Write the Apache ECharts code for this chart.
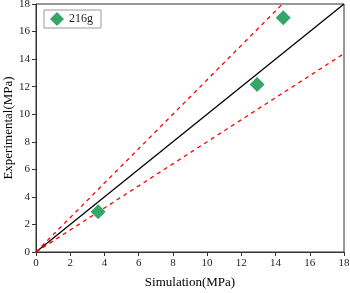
<!DOCTYPE html>
<html>
<head>
<meta charset="utf-8">
<script src="https://cdn.jsdelivr.net/npm/echarts@6/dist/echarts.min.js"></script>
<style>
html, body { margin: 0; padding: 0; background: #fff; }
#chart { width: 350px; height: 293px; }
</style>
</head>
<body>
<div id="chart"></div>
<script>
var simulation = [3.63, 12.92, 14.45];
var experimental = [2.92, 12.15, 17.0];
var seriesName = '216g';
var axisTicks = [0, 2, 4, 6, 8, 10, 12, 14, 16, 18];
var refLine = [[0, 0], [18, 18]];
var upperLine = [[0, 0], [14.4, 18]];
var lowerLine = [[0, 0], [18, 14.4]];

(function () {
    var myChart = echarts.init(document.getElementById('chart'));
    var font = 'Liberation Serif';
    var axisBase = {
        type: 'value',
        min: axisTicks[0],
        max: axisTicks[axisTicks.length - 1],
        interval: 2,
        nameLocation: 'middle',
        nameMoveOverlap: false,
        nameTextStyle: { fontFamily: font, fontSize: 13, color: '#000' },
        axisLine: { show: true, lineStyle: { color: '#333', width: 1 } },
        axisTick: { show: true, inside: false, length: 4, lineStyle: { color: '#333' } },
        axisLabel: { fontFamily: font, fontSize: 11, color: '#222', margin: 6 },
        splitLine: { show: false }
    };
    var points = simulation.map(function (x, i) { return [x, experimental[i]]; });
    var option = {
        animation: false,
        grid: {
            left: 36, right: 6, top: 4, bottom: 41,
            containLabel: false, outerBoundsMode: 'none',
            show: true, borderColor: '#333', borderWidth: 1
        },
        legend: {
            left: 44,
            top: 10,
            data: [seriesName],
            itemWidth: 14,
            itemHeight: 14,
            itemGap: 4,
            padding: [2, 8, 2, 6],
            borderColor: '#999',
            borderWidth: 1,
            textStyle: { fontFamily: font, fontSize: 12, color: '#222' }
        },
        xAxis: Object.assign({}, axisBase, { name: 'Simulation(MPa)', nameGap: 24 }),
        yAxis: Object.assign({}, axisBase, { name: 'Experimental(MPa)', nameGap: 21 }),
        series: [
            {
                type: 'line',
                data: refLine,
                symbol: 'none',
                lineStyle: { color: '#000', width: 1.3 },
                silent: true
            },
            {
                type: 'line',
                data: upperLine,
                symbol: 'none',
                lineStyle: { color: '#ff0000', width: 1.3, type: [4, 4] },
                silent: true
            },
            {
                type: 'line',
                data: lowerLine,
                symbol: 'none',
                lineStyle: { color: '#ff0000', width: 1.3, type: [4, 4] },
                silent: true
            },
            {
                name: seriesName,
                type: 'scatter',
                data: points,
                symbol: 'diamond',
                symbolSize: 15,
                itemStyle: { color: '#35a66a', opacity: 1 },
                z: 5
            }
        ]
    };
    myChart.setOption(option);
    window.addEventListener('resize', function () {
        myChart.resize();
    });
})();
</script>
</body>
</html>
